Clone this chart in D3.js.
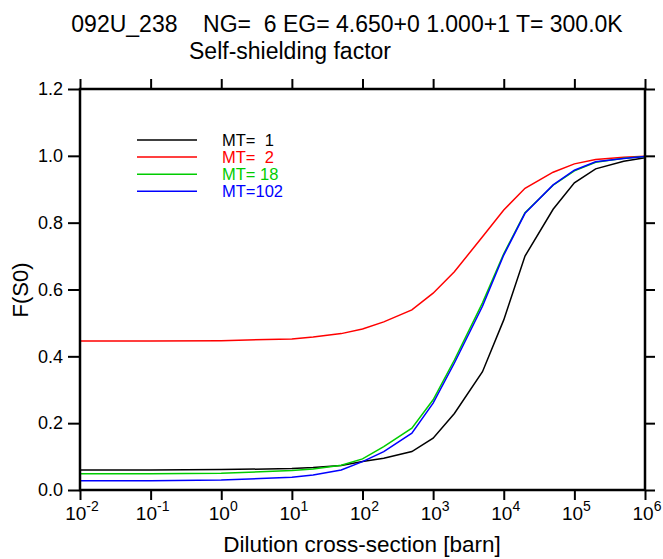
<!DOCTYPE html>
<html>
<head>
<meta charset="utf-8">
<script src="https://cdn.jsdelivr.net/npm/d3@7"></script>
<style>
  body { margin: 0; background: #fff; }
  text { font-family: "Liberation Sans", Arial, sans-serif; fill: #000; }
</style>
</head>
<body>
<svg width="663" height="559"></svg>
<script>
// dilution values [barn]
const sigma0 = [1e-2, 1e-1, 1, 1e1, 2e1, 5e1, 1e2, 2e2, 5e2, 1e3, 2e3, 5e3, 1e4, 2e4, 5e4, 1e5, 2e5, 5e5, 1e6];

const mt1   = [0.060, 0.060, 0.061, 0.064, 0.067, 0.073, 0.085, 0.095, 0.115, 0.155, 0.229, 0.354, 0.509, 0.700, 0.840, 0.919, 0.961, 0.984, 0.994];
const mt2   = [0.446, 0.446, 0.447, 0.452, 0.458, 0.468, 0.482, 0.503, 0.539, 0.589, 0.653, 0.758, 0.838, 0.903, 0.951, 0.976, 0.989, 0.996, 0.999];
const mt18  = [0.049, 0.049, 0.050, 0.058, 0.063, 0.074, 0.093, 0.130, 0.185, 0.270, 0.389, 0.560, 0.707, 0.830, 0.912, 0.955, 0.981, 0.993, 0.998];
const mt102 = [0.028, 0.028, 0.030, 0.038, 0.045, 0.060, 0.085, 0.115, 0.170, 0.260, 0.380, 0.550, 0.703, 0.828, 0.913, 0.957, 0.982, 0.992, 0.998];

const series = [
  { label: "MT=  1", color: "#000000", values: mt1 },
  { label: "MT=  2", color: "#ff0000", values: mt2 },
  { label: "MT= 18", color: "#00cc00", values: mt18 },
  { label: "MT=102", color: "#0000ff", values: mt102 }
];

const xTicks = [-2, -1, 0, 1, 2, 3, 4, 5, 6];
const yTicks = [0, 0.2, 0.4, 0.6, 0.8, 1.0, 1.2];

const svg = d3.select("svg");
const L = 80, R = 645, T = 89, B = 490;

const x = d3.scaleLog().domain([1e-2, 1e6]).range([L, R]);
const y = d3.scaleLinear().domain([0, 1.2]).range([B, T]);

// titles
svg.append("text").attr("x", 347).attr("y", 32).attr("text-anchor", "middle")
  .attr("font-size", 23).style("white-space", "pre")
  .text("092U_238    NG=  6 EG= 4.650+0 1.000+1 T= 300.0K");
svg.append("text").attr("x", 290).attr("y", 59).attr("text-anchor", "middle")
  .attr("font-size", 23).text("Self-shielding factor");

// curves
const line = d3.line().x((d, i) => x(sigma0[i])).y(d => y(d));
series.forEach(s => {
  svg.append("path").datum(s.values).attr("d", line)
    .attr("fill", "none").attr("stroke", s.color).attr("stroke-width", 1.5);
});

// axes with outward ticks on all sides
const tickVals = xTicks.map(e => Math.pow(10, e));
const gBottom = svg.append("g").attr("transform", `translate(0,${B})`)
  .call(d3.axisBottom(x).tickValues(tickVals).tickSize(10).tickFormat(""));
const gTop = svg.append("g").attr("transform", `translate(0,${T})`)
  .call(d3.axisTop(x).tickValues(tickVals).tickSize(10).tickFormat(""));
const gLeft = svg.append("g").attr("transform", `translate(${L},0)`)
  .call(d3.axisLeft(y).tickValues(yTicks).tickSize(12).tickFormat(d3.format(".1f")));
const gRight = svg.append("g").attr("transform", `translate(${R},0)`)
  .call(d3.axisRight(y).tickValues(yTicks).tickSize(10).tickFormat(""));

[gBottom, gTop, gLeft, gRight].forEach(g => {
  g.select(".domain").remove();
  g.selectAll("line").attr("stroke", "#000").attr("stroke-width", 2);
});
gLeft.selectAll("text").attr("font-size", 18).attr("x", -17)
  .style("font-family", "'Liberation Sans', Arial, sans-serif");

svg.append("rect").attr("x", L).attr("y", T).attr("width", R - L).attr("height", B - T)
  .attr("fill", "none").attr("stroke", "#000").attr("stroke-width", 2.5);

// x tick labels with superscripts
xTicks.forEach(e => {
  const t = svg.append("text").attr("x", x(Math.pow(10, e)) + 2).attr("y", 520)
    .attr("text-anchor", "middle").attr("font-size", 19);
  t.append("tspan").text("10");
  t.append("tspan").attr("dy", -9).attr("font-size", 14).text(e);
});

svg.append("text").attr("x", 362).attr("y", 552).attr("text-anchor", "middle")
  .attr("font-size", 22.5).text("Dilution cross-section [barn]");
svg.append("text").attr("transform", "translate(28,290) rotate(-90)")
  .attr("text-anchor", "middle").attr("font-size", 22).text("F(S0)");

// legend
series.forEach((s, i) => {
  const ly = 140 + i * 17.1;
  svg.append("line").attr("x1", 137).attr("x2", 197).attr("y1", ly).attr("y2", ly)
    .attr("stroke", s.color).attr("stroke-width", 1.5);
  svg.append("text").attr("x", 222).attr("y", ly + 6).attr("font-size", 16.5)
    .style("white-space", "pre").style("fill", s.color).text(s.label);
});
</script>
</body>
</html>
